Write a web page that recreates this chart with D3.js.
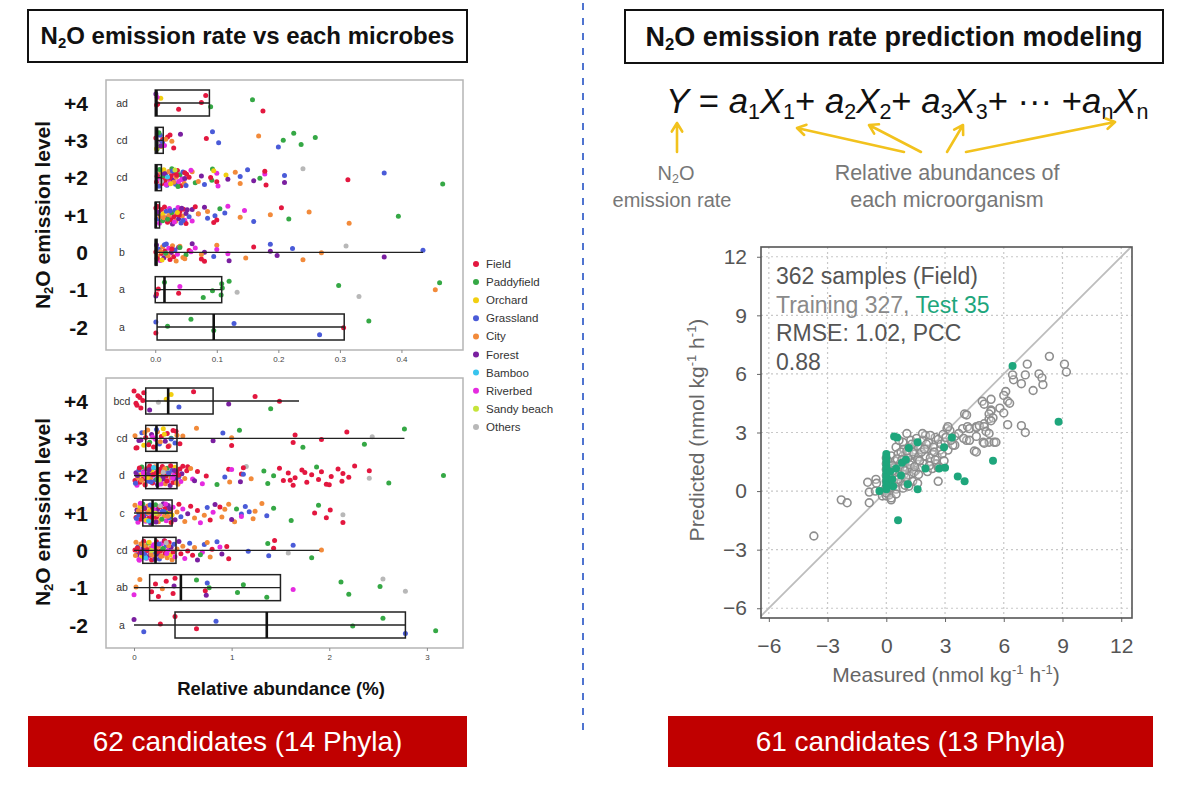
<!DOCTYPE html>
<html><head><meta charset="utf-8">
<script src="https://cdn.jsdelivr.net/npm/d3@7"></script>
<style>body{margin:0;background:#fff}text{font-family:"Liberation Sans",Arial,sans-serif}</style>
</head><body><svg id="c" width="1191" height="806"></svg>
<script>
// ---------------- DATA ----------------
const levels = ["+4","+3","+2","+1","0","-1","-2"];
const habitats = ["Field","Paddyfield","Orchard","Grassland","City","Forest","Bamboo","Riverbed","Sandy beach","Others"];
const habitatCodes = ["f","p","o","g","c","t","b","r","s","x"];
const habitatColors = ["#e3173f","#35a845","#f2cf10","#4a5bd8","#f28a3a","#7a1fa0","#38c4ee","#e52be0","#c6e43a","#b8b8b8"];

// top panel (relative abundance, %)
const topTicks = [0.0,0.1,0.2,0.3,0.4];
const topLetters = ["ad","cd","cd","c","b","a","a"];
const topQ1  = [0,0,0,0,0,0,0.003];
const topMed = [0.002,0.003,0.002,0.001,0.001,0.015,0.095];
const topQ3  = [0.088,0.013,0.01,0.007,0.003,0.108,0.307];
const topWlo = [0,0,0,0,0,0,0.003];
const topWhi = [0.088,0.013,0.01,0.007,0.435,0.108,0.307];
const topPoints = [
 "t.001 f.002 o.009 f.038 f.075 f.082 p.09 p.158 f.175 f.004 r.003",
 "f.001 p.003 t.005 g.008 o.01 f.012 p.006 x.004 f.02 f.03 c.027 t.041 r.015 f.083 g.093 g.103 c.168 g.2 p.208 p.225 p.237 p.26 o.002 g.012 f.024 t.009 c.017",
 "f.002 t.004 g.006 r.008 c.009 f.011 p.012 o.014 f.016 t.017 g.019 f.021 c.022 r.024 f.026 p.027 t.029 f.031 g.033 c.034 f.036 r.038 p.04 f.042 t.044 g.045 c.047 f.003 p.007 f.013 t.015 r.018 f.023 g.028 c.03 f.035 p.037 r.043 f.048 o.025 b.02 s.032 x.01 f.051 g.05 t.048 c.06 p.065 t.075 p.093 p.092 r.1 g.08 f.09 o.095 f.1 o.115 r.102 t.118 c.13 c.138 g.138 g.15 t.16 r.178 f.18 p.17 f.178 t.21 g.21 x.24 f.313 g.372 p.467 f.055 r.058 c.07",
 "f.001 g.003 t.005 r.007 c.008 f.01 p.012 o.013 f.015 t.017 g.018 f.02 c.022 r.023 f.025 p.027 t.028 f.03 g.032 c.033 f.035 r.037 t.038 f.04 g.042 c.044 f.046 r.048 t.05 f.004 c.014 g.024 r.031 f.039 t.043 p.02 o.036 f.05 g.055 t.052 r.06 r.07 t.08 g.085 c.085 f.095 g.097 p.105 f.1 g.113 r.118 c.138 r.145 g.16 c.187 f.205 p.217 c.25 c.315 p.395 t.06 g.045 c.07 f.065",
 "f.001 t.002 c.004 g.006 r.008 f.01 c.012 t.014 f.016 g.018 c.02 r.022 f.024 t.026 c.028 f.03 g.032 c.034 r.036 t.038 f.003 c.009 g.015 c.021 f.027 o.011 p.017 c.04 c.045 f.055 t.06 p.05 r.065 f.075 t.08 c.1 g.095 r.1 t.12 r.118 f.16 c.147 t.187 g.187 t.198 g.223 c.24 c.27 x.31 t.372 g.435 f.08 c.075 p.04 c.048 r.058",
 "t.001 f.005 p.015 f.038 r.04 p.078 p.093 p.108 p.107 p.109 p.12 x.133 p.298 x.331 c.455 p.462 f.002",
 "g.001 f.001 p.02 p.058 p.095 g.128 g.267 f.306 p.347"
];

// bottom panel (relative abundance, %)
const botTicks = [0,1,2,3];
const botLetters = ["bcd","cd","d","c","cd","ab","a"];
const botQ1  = [0.12,0.12,0.12,0.09,0.09,0.16,0.42];
const botMed = [0.35,0.23,0.24,0.19,0.22,0.48,1.36];
const botQ3  = [0.81,0.44,0.44,0.39,0.43,1.5,2.78];
const botWlo = [0.12,0.0,0.0,0.0,0.0,0.0,0.0];
const botWhi = [1.69,2.77,0.44,0.39,1.9,1.5,2.78];
const botPoints = [
 "f.0 f.02 f.04 f.07 f.09 f.1 f.03 f.06 t.16 x.25 o.38 g.46 o.33 f.61 t.97 f1.24 p1.4 f1.49",
 "c.01 f.02 t.05 g.08 o.1 f.12 c.14 p.16 t.18 f.2 r.22 c.24 g.26 f.28 o.3 t.32 f.34 c.36 p.38 f.4 g.42 c.44 f.03 t.07 c.11 f.15 r.19 g.23 c.27 o.31 f.35 g.38 f.43 f.47 c.5 c.64 t.81 g.91 f1.0 c1.0 p1.08 f1.63 f1.65 p1.73 f1.92 f2.18 p2.36 x2.44 p2.77",
 "f.01 t.02 r.03 c.04 g.05 f.06 o.07 p.08 f.09 t.1 c.11 r.12 f.13 g.14 t.15 f.16 c.17 o.18 f.19 r.2 p.21 g.22 f.23 t.24 c.25 f.26 r.27 o.28 f.29 t.3 g.31 c.32 f.33 p.34 r.35 f.36 t.37 c.38 g.39 f.4 r.41 o.42 t.43 f.44 c.45 g.46 f.47 r.48 t.49 f.5 c.52 f.54 g.015 t.035 f.055 c.075 r.095 f.115 o.135 t.155 g.175 f.195 c.215 p.235 f.255 r.275 t.295 c.315 f.335 g.355 f.375 r.395 t.415 c.435 f.455 b.2 s.26 x.3 p.85 g.93 f.97 t1.09 f1.1 x1.15 c1.2 p1.33 p1.37 p1.43 f1.49 f1.53 f1.58 f1.63 f1.65 f1.72 f1.77 f1.82 p1.87 f1.89 f1.92 f1.97 f2.02 f2.09 f2.13 f2.14 f2.26 x2.41 f2.41 p2.61 p3.17 f1.12 f1.6 f1.75 f2.0 f2.2 r1.0 c.98 g1.12 f.55 r.6 f.65 r.7 f.74 c.58 t.62",
 "c.01 f.02 t.03 r.04 g.05 o.06 f.07 c.08 p.09 t.1 f.11 r.12 g.13 c.14 f.15 o.16 t.17 r.18 f.19 c.2 g.21 p.22 f.23 t.24 c.25 r.26 f.27 o.28 g.29 t.3 c.31 f.32 r.33 p.34 t.35 g.36 c.37 f.38 o.39 r.4 t.42 c.44 f.46 g.48 r.5 c.52 t.55 f.58 g.025 c.045 r.065 f.085 t.105 o.125 c.145 g.165 f.185 r.205 t.225 c.245 f.265 p.285 g.305 r.325 c.345 t.365 b.15 s.22 x.27 c.62 f.65 r.68 c.72 g.75 f.78 r.81 t.83 c.9 c.93 c1.03 g1.1 g1.14 c1.22 c1.24 c1.31 g1.36 p1.43 p1.61 f1.85 p1.89 f1.97 f2.01 f2.14 x2.14 f.88 t1.0 g1.18 c.97 r1.1 p1.05",
 "f.01 c.02 t.03 g.04 r.05 f.06 c.07 o.08 t.09 f.1 g.11 c.12 r.13 f.14 p.15 t.16 c.17 f.18 g.19 r.2 c.21 o.22 f.23 t.24 c.25 g.26 f.27 r.28 c.29 p.3 t.31 f.32 g.33 c.34 r.35 f.36 o.37 t.38 c.39 f.4 g.41 r.42 c.44 t.46 f.48 c.5 r.52 f.55 g.57 c.015 f.035 r.055 t.075 c.095 g.115 f.135 o.155 c.175 r.195 t.215 f.235 g.255 c.275 p.295 f.315 r.335 c.355 b.12 s.18 x.33 f.6 c.62 t.65 r.7 g.72 c.78 f.8 g.85 t.9 f.95 f.97 g1.17 p1.37 g1.38 f1.43 f1.44 x1.58 g1.63 p1.82 c1.92 c.75 p.68 r.88",
 "r.0 c.02 c.06 f.18 f.22 f.25 c.29 f.33 f.4 t.41 f.42 f.73 g.75 t.74 p.77 p.64 p1.06 p1.12 p1.36 r1.63 p2.12 p2.2 p2.52 x2.55 x2.78",
 "t0 g.1 f.27 f.42 f.64 g.84 g2.78 p2.24 p2.55 p3.09"
];

// prediction model scatter (measured, predicted) nmol kg-1 h-1
const scatterTicks = [-6,-3,0,3,6,9,12];
const trainPoints = "-3.7,-2.3 -2.3,-0.45 -2.0,-0.6 -0.95,0.45 -0.53,0.6 -0.5,0.4 -0.87,-0.05 -0.56,0 -0.87,-0.6 -0.2,-0.25 -0.15,0 0,-0.25 0.25,-0.45 0.15,-0.2 0,0.2 0,0.5 0,0.8 0,1.1 0,1.4 0,1.7 0,0.05 0,-0.1 1.05,2.95 2.0,2.85 2.5,2.75 3.1,3.2 3.25,3.1 0.85,2.5 1.25,2.6 1.5,2.45 1.85,2.6 2.15,2.5 2.65,2.65 0.5,2.25 0.9,2.15 1.15,2.25 1.4,2.1 1.75,2.25 2.1,2.15 2.4,2.25 2.75,2.1 3.5,2.35 4.1,2.6 4.6,2.8 0.25,1.8 0.6,1.9 0.85,1.8 1.15,1.95 1.4,1.9 1.65,1.75 2.0,1.8 2.35,1.9 2.6,1.75 3.15,2.1 3.4,2.35 4.5,2.05 0.15,1.5 0.45,1.55 0.7,1.4 1.0,1.55 1.3,1.45 1.6,1.6 1.9,1.4 2.25,1.5 2.55,1.4 0.15,1.15 0.4,1.2 0.65,1.05 0.9,1.25 1.25,1.15 1.5,1.05 1.75,1.2 2.1,1.0 2.35,1.15 2.65,1.2 0.1,0.8 0.35,0.9 0.65,0.75 0.9,0.85 1.15,0.8 1.4,0.95 1.65,0.85 0.05,0.45 0.25,0.55 0.5,0.4 0.75,0.5 1.05,0.45 1.35,0.5 2.65,0.5 0.05,0.15 0.25,0.2 0.5,0.1 0.85,0.15 1.15,0.25 0.25,-0.35 0.5,-0.15 4.0,3.95 4.6,3.3 5.0,3.45 5.25,3.7 5.35,4.15 4.95,2.5 5.25,2.5 5.5,2.5 3.15,3.3 3.5,2.8 3.9,3.2 4.15,3.3 8.33,6.9 9.1,6.5 9.2,6.1 7.2,6.5 7.8,6.0 7.95,5.8 8.0,5.45 7.1,5.95 6.9,5.5 7.5,5.15 6.5,5.7 6.1,5.1 6.0,4.9 6.2,4.6 6.3,4.5 5.35,4.7 4.9,4.6 5.0,4.45 5.8,4.25 6.0,4.0 5.35,4.1 5.25,3.95 5.45,3.75 5.35,3.6 6.2,3.4 6.9,3.35 7.1,3.0 4.1,3.9 4.25,3.2 4.6,3.25 4.75,3.35 5.0,3.3 5.1,3.05 5.25,2.95 3.7,2.95 3.95,2.7 4.25,2.6 5.0,2.45 5.6,2.5 4.6,2.0 6.45,5.95 0.3,1.3 0.55,1.65 0.75,2.0 1.1,1.7 1.35,2.0 1.6,2.3 1.8,2.0 2.05,2.4 2.25,1.7 2.45,2.0 2.8,2.4 2.9,2.9 1.95,2.15 0.45,0.95 0.7,1.25 0.95,1.05 1.2,1.35 1.45,1.25 1.7,1.55 0.2,0.65 0.6,0.6 1.0,0.7 2.2,1.3 2.5,1.6 2.85,1.9 3.0,2.5 3.3,2.6 2.95,1.55 0.35,1.05 0.8,1.6 1.05,2.05 1.3,2.4 0.65,2.6 1.55,2.7 1.85,2.95 2.25,2.85 3.05,2.75 0.95,0.3 1.6,0.4";
const testPoints = "6.45,6.4 8.8,3.55 5.45,1.55 3.65,0.75 4.0,0.5 3.35,2.75 2.95,2.25 2.7,1.15 3.0,1.2 2.0,1.15 1.6,2.5 1.6,0.1 1.1,0.35 0.6,-1.5 0.4,2.8 0.55,2.75 0,1.9 0,1.7 0,1.5 0,1.3 0,1.1 0,0.9 0,0.7 0,0.5 0,0.3 0,0.1 -0.35,0 0.5,1.15 0.75,0.8 0.8,1.45 0.35,0.25 0.2,1.0 1.15,2.2 1.0,1.6 0.3,0.6";

// ---------------- DRAW ----------------
const svg = d3.select("#c");
const colorOf = d3.scaleOrdinal().domain(habitatCodes).range(habitatColors);
const parsePts = s => s.trim().split(/\s+/).map(t => ({code: t[0], v: +t.slice(1)}));
const parseXY = s => s.trim().split(/\s+/).map(t => { const [a,b] = t.split(","); return {x:+a, y:+b}; });

function rich(parent, x, y, pieces, attrs) {
  const t = parent.append("text").attr("x", x).attr("y", y);
  Object.entries(attrs || {}).forEach(([k, v]) => t.attr(k, v));
  let shift = 0;
  pieces.forEach(([s, kind]) => {
    const ts = t.append("tspan").text(s);
    const small = (kind === "sub" || kind === "sup");
    const target = kind === "sub" ? 0.16 : kind === "sup" ? -0.38 : 0;
    const fs = small ? 0.62 : 1;
    if (small) ts.attr("font-size", "0.62em");
    if (target !== shift) ts.attr("dy", ((target - shift) / fs).toFixed(3) + "em");
    shift = target;
    if (kind === "i") ts.attr("font-style", "italic");
  });
  return t;
}

// Title boxes
function titleBox(x0, x1, y0, y1, pieces, fsize) {
  svg.append("rect").attr("x", x0).attr("y", y0).attr("width", x1 - x0).attr("height", y1 - y0)
    .attr("fill", "#fff").attr("stroke", "#111").attr("stroke-width", 2);
  rich(svg, (x0 + x1) / 2, (y0 + y1) / 2 + fsize * 0.35, pieces,
    {"text-anchor": "middle", "font-size": fsize, "font-weight": "bold", fill: "#111"});
}
titleBox(28, 467, 10, 62, [["N"], ["2","sub"], ["O emission rate vs each microbes"]], 24);
titleBox(625, 1163, 10, 63, [["N"], ["2","sub"], ["O emission rate prediction modeling"]], 27);

// divider
svg.append("line").attr("x1", 583).attr("x2", 583).attr("y1", 3).attr("y2", 735)
  .attr("stroke", "#4f74d0").attr("stroke-width", 2).attr("stroke-dasharray", "7,8");

// Box + jitter panels
function boxPanel(cfg) {
  const g = svg.append("g");
  const x = d3.scaleLinear().domain(cfg.domain).range([cfg.x0, cfg.x1]);
  const y = d3.scalePoint().domain(levels).range(cfg.rowRange);
  g.append("rect").attr("x", cfg.x0).attr("y", cfg.y0).attr("width", cfg.x1 - cfg.x0).attr("height", cfg.y1 - cfg.y0)
    .attr("fill", "#fff").attr("stroke", "#b5b5b5").attr("stroke-width", 1.5);
  const ax = g.append("g").attr("transform", `translate(0,${cfg.y1})`)
    .call(d3.axisBottom(x).tickValues(cfg.ticks).tickFormat(cfg.fmt).tickSize(3).tickPadding(3));
  ax.select(".domain").remove();
  ax.selectAll("line").attr("stroke", "#888");
  ax.selectAll("text").attr("font-size", 8).attr("fill", "#444");
  levels.forEach((lv, i) => {
    g.append("text").attr("x", 88).attr("y", y(lv)).attr("dy", "0.36em").attr("text-anchor", "end")
      .attr("font-size", 21).attr("font-weight", "bold").attr("fill", "#111").text(lv);
    g.append("text").attr("x", 122).attr("y", y(lv)).attr("dy", "0.35em").attr("text-anchor", "middle")
      .attr("font-size", 10.5).attr("fill", "#333").text(cfg.letters[i]);
  });
  rich(g.append("g").attr("transform", `translate(50,${cfg.titleY}) rotate(-90)`), 0, 0,
    [["N"], ["2","sub"], ["O emission level"]],
    {"text-anchor": "middle", "font-size": 21, "font-weight": "bold", fill: "#111"});
  levels.forEach((lv, i) => {
    const pts = parsePts(cfg.points[i]);
    g.append("g").selectAll("circle").data(pts).join("circle")
      .attr("cx", d => x(d.v))
      .attr("cy", (d, k) => y(lv) + (((k * 0.6180339 + i * 0.37) % 1) - 0.5) * cfg.jit)
      .attr("r", 2.5).attr("fill", d => colorOf(d.code));
  });
  levels.forEach((lv, i) => {
    const cy = y(lv), h = cfg.boxH;
    g.append("line").attr("x1", x(cfg.wlo[i])).attr("x2", x(cfg.whi[i])).attr("y1", cy).attr("y2", cy)
      .attr("stroke", "#222").attr("stroke-width", 1.3);
    g.append("rect").attr("x", x(cfg.q1[i])).attr("y", cy - h).attr("width", Math.max(1, x(cfg.q3[i]) - x(cfg.q1[i])))
      .attr("height", 2 * h).attr("fill", "none").attr("stroke", "#222").attr("stroke-width", 1.5);
    g.append("line").attr("x1", x(cfg.med[i])).attr("x2", x(cfg.med[i])).attr("y1", cy - h).attr("y2", cy + h)
      .attr("stroke", "#111").attr("stroke-width", 2.6);
  });
}
boxPanel({x0:106, x1:463, y0:80, y1:350, domain:[-0.08,0.5], ticks:topTicks, fmt:d3.format(".1f"),
  rowRange:[103,327], letters:topLetters, q1:topQ1, med:topMed, q3:topQ3, wlo:topWlo, whi:topWhi,
  points:topPoints, boxH:13, jit:18, titleY:215});
boxPanel({x0:106, x1:463, y0:378, y1:648, domain:[-0.287,3.37], ticks:botTicks, fmt:d3.format("d"),
  rowRange:[401,625], letters:botLetters, q1:botQ1, med:botMed, q3:botQ3, wlo:botWlo, whi:botWhi,
  points:botPoints, boxH:13, jit:20, titleY:512});

svg.append("text").attr("x", 281).attr("y", 695).attr("text-anchor", "middle").attr("font-size", 18.5)
  .attr("font-weight", "bold").attr("fill", "#111").text("Relative abundance (%)");

// legend
const leg = svg.append("g");
habitats.forEach((h, i) => {
  const yy = 264 + i * 18.1;
  leg.append("circle").attr("cx", 476).attr("cy", yy).attr("r", 3).attr("fill", habitatColors[i]);
  leg.append("text").attr("x", 486).attr("y", yy).attr("dy", "0.35em").attr("font-size", 11.5)
    .attr("fill", "#333").text(h);
});

// banners
function banner(x0, x1, label) {
  svg.append("rect").attr("x", x0).attr("y", 716).attr("width", x1 - x0).attr("height", 51).attr("fill", "#c00000");
  svg.append("text").attr("x", (x0 + x1) / 2).attr("y", 751).attr("text-anchor", "middle")
    .attr("font-size", 28).attr("fill", "#fff").text(label);
}
banner(28, 467, "62 candidates (14 Phyla)");
banner(668, 1153, "61 candidates (13 Phyla)");

// formula
rich(svg, 666, 113, [["Y","i"],[" = "],["a","i"],["1","sub"],["X","i"],["1","sub"],["+ "],["a","i"],["2","sub"],["X","i"],["2","sub"],
  ["+ "],["a","i"],["3","sub"],["X","i"],["3","sub"],["+ ··· +"],["a","i"],["n","sub"],["X","i"],["n","sub"]],
  {"font-size": 34.7, fill: "#111"});

// arrows
const arrowColor = "#f2c21d";
function arrow(x1, y1, x2, y2) {
  const a = Math.atan2(y2 - y1, x2 - x1), L = 10, sp = 0.55;
  svg.append("path").attr("d",
    `M${x1},${y1}L${x2},${y2}M${x2 - L*Math.cos(a - sp)},${y2 - L*Math.sin(a - sp)}L${x2},${y2}L${x2 - L*Math.cos(a + sp)},${y2 - L*Math.sin(a + sp)}`)
    .attr("fill", "none").attr("stroke", arrowColor).attr("stroke-width", 2.6).attr("stroke-linecap", "round").attr("stroke-linejoin", "round");
}
arrow(677, 152, 677, 123);
arrow(904, 152, 797, 128);
arrow(921, 152, 869, 125);
arrow(947, 152, 963, 125);
arrow(966, 152, 1115, 122);

rich(svg, 676, 180, [["N"],["2","sub"],["O"]], {"text-anchor":"middle","font-size":20,fill:"#777"});
svg.append("text").attr("x", 672).attr("y", 207).attr("text-anchor","middle").attr("font-size",20).attr("fill","#777").text("emission rate");
svg.append("text").attr("x", 947).attr("y", 180).attr("text-anchor","middle").attr("font-size",21.5).attr("fill","#777").text("Relative abundances of");
svg.append("text").attr("x", 947).attr("y", 207).attr("text-anchor","middle").attr("font-size",21.5).attr("fill","#777").text("each microorganism");

// scatter
const sx = d3.scaleLinear().domain([-6.4, 12.55]).range([761, 1132]);
const sy = d3.scaleLinear().domain([-6.5, 12.5]).range([618, 247]);
const sg = svg.append("g");
sg.append("rect").attr("x", 761).attr("y", 247).attr("width", 371).attr("height", 371).attr("fill", "#fff");
scatterTicks.forEach(t => {
  sg.append("line").attr("x1", sx(t)).attr("x2", sx(t)).attr("y1", 247).attr("y2", 618)
    .attr("stroke", "#c8c8c8").attr("stroke-width", 1.2).attr("stroke-dasharray", "2,3");
  sg.append("line").attr("y1", sy(t)).attr("y2", sy(t)).attr("x1", 761).attr("x2", 1132)
    .attr("stroke", "#c8c8c8").attr("stroke-width", 1.2).attr("stroke-dasharray", "2,3");
});
const fmtMinus = d => d < 0 ? "\u2212" + Math.abs(d) : String(d);
const xa = sg.append("g").attr("transform", "translate(0,618)")
  .call(d3.axisBottom(sx).tickValues(scatterTicks).tickFormat(fmtMinus).tickSize(4).tickPadding(16));
const ya = sg.append("g").attr("transform", "translate(761,0)")
  .call(d3.axisLeft(sy).tickValues(scatterTicks).tickFormat(fmtMinus).tickSize(4).tickPadding(10));
[xa, ya].forEach(a => {
  a.select(".domain").remove();
  a.selectAll("line").attr("stroke", "#666");
  a.selectAll("text").attr("font-size", 21).attr("fill", "#555");
});
sg.append("line").attr("x1", sx(-6.4)).attr("y1", sy(-6.4)).attr("x2", sx(12.5)).attr("y2", sy(12.5))
  .attr("stroke", "#bdbdbd").attr("stroke-width", 1.8);
sg.append("g").selectAll("circle").data(parseXY(trainPoints)).join("circle")
  .attr("cx", d => sx(d.x)).attr("cy", d => sy(d.y)).attr("r", 3.9)
  .attr("fill", "rgba(255,255,255,0.25)").attr("stroke", "#8e8e8e").attr("stroke-width", 1.6);
sg.append("g").selectAll("circle").data(parseXY(testPoints)).join("circle")
  .attr("cx", d => sx(d.x)).attr("cy", d => sy(d.y)).attr("r", 4)
  .attr("fill", "#1ea67c");
sg.append("rect").attr("x", 761).attr("y", 247).attr("width", 371).attr("height", 371)
  .attr("fill", "none").attr("stroke", "#555").attr("stroke-width", 1.6);

sg.append("text").attr("x", 776).attr("y", 284).attr("font-size", 23).attr("fill", "#555").text("362 samples (Field)");
const t2 = sg.append("text").attr("x", 776).attr("y", 313).attr("font-size", 23);
t2.append("tspan").attr("fill", "#8a8a8a").text("Training 327, ");
t2.append("tspan").attr("fill", "#1ea67c").text("Test 35");
sg.append("text").attr("x", 776).attr("y", 341).attr("font-size", 23).attr("fill", "#555").text("RMSE: 1.02, PCC");
sg.append("text").attr("x", 776).attr("y", 370).attr("font-size", 23).attr("fill", "#555").text("0.88");

rich(svg, 946, 682, [["Measured (nmol kg"],["-1","sup"],[" h"],["-1","sup"],[")"]],
  {"text-anchor":"middle","font-size":21,fill:"#666"});
rich(svg.append("g").attr("transform","translate(704,430) rotate(-90)"), 0, 0,
  [["Predicted (nmol kg"],["-1","sup"],[" h"],["-1","sup"],[")"]],
  {"text-anchor":"middle","font-size":21,fill:"#666"});
</script></body></html>
